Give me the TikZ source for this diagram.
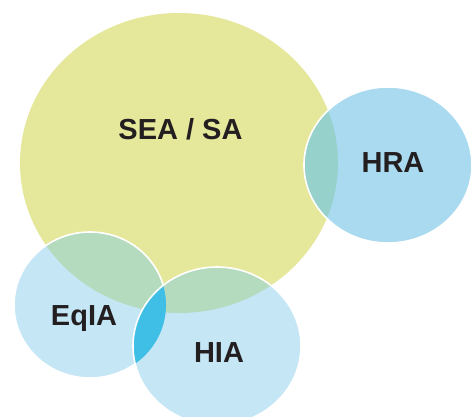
\documentclass[tikz,border=0pt]{standalone}
\usepackage{fontspec}
\setmainfont{Liberation Sans}
\definecolor{seaY}{HTML}{E5E79A}
\definecolor{hraB}{HTML}{A9DAF0}
\definecolor{lightB}{HTML}{C5E6F5}
\definecolor{ovTeal}{HTML}{97D1CB}
\definecolor{ovGreen}{HTML}{B5DBBE}
\definecolor{lensB}{HTML}{40BFE6}
\definecolor{txt}{HTML}{231F20}
\begin{document}
\begin{tikzpicture}[x=1pt,y=-1pt,
  lbl/.style={font=\fontsize{29}{31}\selectfont\bfseries, text=txt, inner sep=0pt, anchor=base},
  rim/.style={draw=white, line width=1.6pt}]
\useasboundingbox (0,0) rectangle (472,417);
\def\seaE{(179,163) ellipse [x radius=159, y radius=150]}
\def\hraE{(388,165) ellipse [x radius=84, y radius=78]}
\def\eqE{(90,305) ellipse [x radius=76, y radius=73]}
\def\hiaE{(217,346) ellipse [x radius=84, y radius=79]}
\begin{scope}
\clip (0,0) rectangle (472,417);
% base fills
\fill[seaY] \seaE;
\fill[hraB] \hraE;
\fill[lightB] \eqE;
% overlaps with SEA
\begin{scope}\clip \seaE; \fill[ovTeal] \hraE; \end{scope}
\begin{scope}\clip \seaE; \fill[ovGreen] \eqE; \end{scope}
\draw[rim] \hraE;
\draw[rim] \eqE;
% HIA
\fill[lightB] \hiaE;
\begin{scope}\clip \seaE; \fill[ovGreen] \hiaE; \end{scope}
\begin{scope}\clip \eqE; \fill[lensB] \hiaE; \end{scope}
\draw[rim] \hiaE;
\end{scope}
% labels
\node[lbl] (sea) at (180.5,139.5) {SEA / SA};
\node[lbl] (hra) at (393,172.5) {HRA};
\node[lbl] (eqia) at (84,325.5) {EqIA};
\node[lbl] (hia) at (219,362.5) {HIA};
\end{tikzpicture}
\end{document}
